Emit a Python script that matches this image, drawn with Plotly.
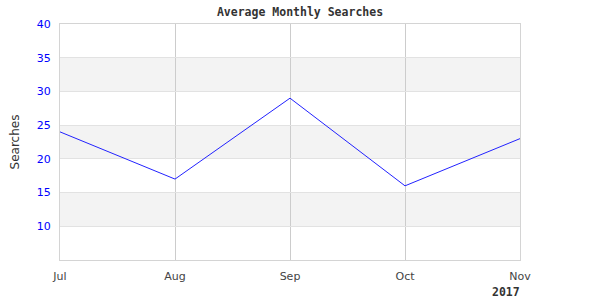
import plotly.graph_objects as go

months = ["Jul", "Aug", "Sep", "Oct", "Nov"]
searches = [24, 17, 29, 16, 23]
y_ticks = [10, 15, 20, 25, 30, 35, 40]
year_label = "2017"
title = "Average Monthly Searches"
y_title = "Searches"

x_pos = list(range(len(months)))

fig = go.Figure()
fig.add_trace(go.Scatter(x=x_pos, y=searches, mode="lines",
                         line=dict(color="#2222ff", width=1), hoverinfo="skip"))

# alternating background bands
bands = [(30, 35), (20, 25), (10, 15)]
for lo, hi in bands:
    fig.add_shape(type="rect", xref="paper", yref="y", x0=0, x1=1, y0=lo, y1=hi,
                  fillcolor="#f3f3f3", line=dict(width=0), layer="below")

fig.update_layout(
    width=600, height=300,
    margin=dict(l=60, r=80, t=24, b=40),
    paper_bgcolor="white", plot_bgcolor="white",
    showlegend=False,
    title=dict(text=title, x=0.5, xanchor="center", y=1 - 12 / 300, yanchor="middle",
               font=dict(family="DejaVu Sans Mono", size=11.5, color="#333333", weight="bold")),
    annotations=[dict(text=year_label, xref="paper", yref="paper", x=(505.5 - 60) / 460, y=-32 / 236,
                      xanchor="center", yanchor="middle", showarrow=False,
                      font=dict(family="DejaVu Sans Mono", size=11.5, color="#333333", weight="bold"))],
)
fig.update_xaxes(
    range=[0, 4], tickvals=x_pos, ticktext=months,
    showgrid=True, gridcolor="#cccccc", gridwidth=1,
    showline=True, linecolor="#d4d4d4", linewidth=1, mirror=True,
    zeroline=False, ticks="", ticklabelstandoff=6,
    tickfont=dict(family="DejaVu Sans", size=11, color="#444444"),
)
fig.update_yaxes(
    range=[5, 40], tickvals=y_ticks,
    showgrid=True, gridcolor="#e2e2e2", gridwidth=1,
    showline=True, linecolor="#d4d4d4", linewidth=1, mirror=True,
    zeroline=False, ticks="", ticklabelstandoff=6,
    tickfont=dict(family="DejaVu Sans", size=11, color="#0000ff"),
    title=dict(text=y_title, standoff=14, font=dict(family="DejaVu Sans", size=12, color="#333333")),
)

fig.write_html("out.html")
